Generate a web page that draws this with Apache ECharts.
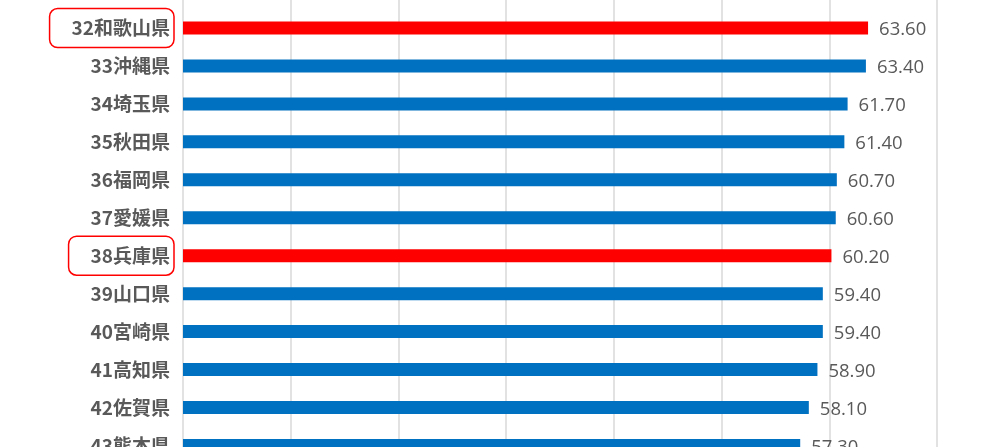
<!DOCTYPE html>
<html>
<head>
<meta charset="utf-8">
<script src="https://cdn.jsdelivr.net/npm/echarts@6/dist/echarts.min.js"></script>
<style>
html,body{margin:0;padding:0;background:#fff;}
#c{width:1008px;height:447px;}
</style>
</head>
<body>
<div id="c"></div>
<script>
const categories = ['32和歌山県','33沖縄県','34埼玉県','35秋田県','36福岡県','37愛媛県','38兵庫県','39山口県','40宮崎県','41高知県','42佐賀県','43熊本県'];
const values = [63.6, 63.4, 61.7, 61.4, 60.7, 60.6, 60.2, 59.4, 59.4, 58.9, 58.1, 57.3];
const highlighted = ['32和歌山県','38兵庫県'];
const xTicks = [0, 10, 20, 30, 40, 50, 60, 70];

const labelFont = '"Noto Sans CJK JP", "Noto Sans", sans-serif';
const valueFont = '"Open Sans", "Noto Sans", sans-serif';

const chart = echarts.init(document.getElementById('c'));
chart.setOption({
  animation: false,
  backgroundColor: '#ffffff',
  grid: { left: 183, right: 71, top: -28.9, bottom: -17.4, containLabel: false, outerBoundsMode: 'none' },
  xAxis: {
    type: 'value',
    min: xTicks[0],
    max: xTicks[xTicks.length - 1],
    interval: 10,
    axisLabel: { show: false },
    axisLine: { show: false },
    axisTick: { show: false },
    splitLine: { show: true, lineStyle: { color: '#D9D9D9', width: 1.5 } }
  },
  yAxis: {
    type: 'category',
    data: categories,
    inverse: true,
    min: -1,
    max: categories.length - 1,
    axisLine: { show: false },
    axisTick: { show: false },
    axisLabel: {
      margin: 9,
      interval: 0,
      formatter: function (v) {
        if (v === undefined || v === null || v === '') return '';
        return highlighted.indexOf(v) >= 0 ? '{hl|' + v + '}' : '{n|' + v + '}';
      },
      rich: {
        hl: {
          fontSize: 19, fontWeight: 'bold', color: '#595959', fontFamily: labelFont,
          borderColor: '#FF0000', borderWidth: 1.5, borderRadius: 8,
          padding: [10, 4, 10, 22]
        },
        n: {
          fontSize: 19, fontWeight: 'bold', color: '#595959', fontFamily: labelFont,
          padding: [0, 4, 0, 0]
        }
      }
    }
  },
  series: [{
    type: 'bar',
    barWidth: 13,
    data: values.map(function (v, i) {
      return {
        value: v,
        itemStyle: { color: highlighted.indexOf(categories[i]) >= 0 ? '#FF0000' : '#0070C0' }
      };
    }),
    label: {
      show: true,
      position: 'right',
      distance: 11,
      offset: [0, 2],
      color: '#595959',
      fontSize: 18.5,
      fontFamily: valueFont,
      formatter: function (p) { return p.value.toFixed(2); }
    }
  }]
});
</script>
</body>
</html>
